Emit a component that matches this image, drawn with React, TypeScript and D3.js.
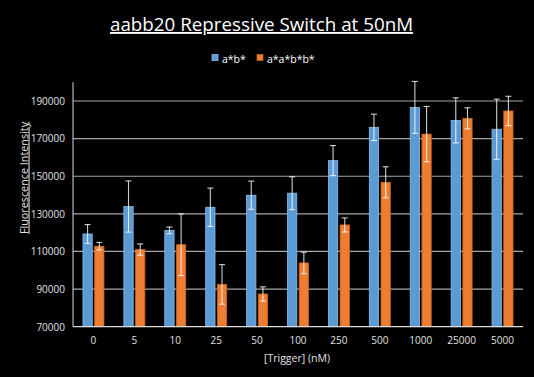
import React from "react";
import * as d3 from "d3";

const categories = ["0", "5", "10", "25", "50", "100", "250", "500", "1000", "25000", "5000"];
const seriesNames = ["a*b*", "a*a*b*b*"];
const valuesA = [119300, 133900, 121200, 133500, 139900, 141000, 158300, 176000, 186600, 179700, 175000];
const errorsA = [5000, 13600, 1800, 10200, 7500, 8700, 8000, 7000, 13800, 12000, 16000];
const valuesB = [112800, 111000, 113600, 92500, 87400, 103900, 124100, 146800, 172400, 180800, 184700];
const errorsB = [2000, 3000, 16400, 10500, 3800, 5700, 3750, 8250, 14700, 5600, 7800];
const yTicks = [70000, 90000, 110000, 130000, 150000, 170000, 190000];

const colors = ["#5B9BD5", "#ED7D31"];
const strokes = ["#8DBBE6", "#C9621F"];

export default function App() {
  const W = 534, H = 377;
  const left = 73, right = 523, top = 82.2, bottom = 326.7;
  const x = d3.scaleBand().domain(categories).range([left, right]);
  const y = d3.scaleLinear().domain([70000, 200000]).range([bottom, top]);
  const barW = 9.3, gap = 2.4;
  const series = [
    { vals: valuesA, errs: errorsA },
    { vals: valuesB, errs: errorsB },
  ];
  const font = "'Open Sans', sans-serif";
  return (
    <svg width={W} height={H} style={{ position: "absolute", left: 0, top: 0, background: "#000" }}>
      <rect x={0} y={0} width={W} height={H} fill="#000" />
      <text x={261.5} y={31} textAnchor="middle" fill="#fff" fontFamily={font} fontSize={18.8} textDecoration="underline">
        aabb20 Repressive Switch at 50nM
      </text>
      {/* legend */}
      {seriesNames.map((n, i) => {
        const lx = i === 0 ? 212 : 257;
        return (
          <g key={n}>
            <rect x={lx} y={54.5} width={6} height={6} fill={colors[i]} stroke={strokes[i]} strokeWidth={0.8} />
            <text x={lx + 10} y={63} fill="#fff" fontFamily={font} fontSize={10.5}>{n}</text>
          </g>
        );
      })}
      {/* gridlines */}
      {yTicks.slice(1).map((t) => (
        <line key={t} x1={left} x2={right} y1={y(t)} y2={y(t)} stroke="#a6a6a6" strokeWidth={1.2} />
      ))}
      {/* y tick labels */}
      {yTicks.map((t) => (
        <text key={t} x={65} y={y(t) + 3.8} textAnchor="end" fill="#e0e0e0" fontFamily={font} fontSize={10}>
          {t}
        </text>
      ))}
      {/* bars */}
      {categories.map((c, ci) => {
        const cx = (x(c) as number) + x.bandwidth() / 2;
        return (
          <g key={c}>
            {series.map((s, si) => {
              const bx = si === 0 ? cx - gap / 2 - barW : cx + gap / 2;
              const v = s.vals[ci];
              return (
                <rect key={si} x={bx} y={y(v)} width={barW} height={bottom - y(v)} fill={colors[si]} stroke={strokes[si]} strokeWidth={0.8} />
              );
            })}
          </g>
        );
      })}
      {/* error bars */}
      {categories.map((c, ci) => {
        const cx = (x(c) as number) + x.bandwidth() / 2;
        return (
          <g key={c}>
            {series.map((s, si) => {
              const ex = si === 0 ? cx - gap / 2 - barW / 2 : cx + gap / 2 + barW / 2;
              const v = s.vals[ci], e = s.errs[ci];
              const y1 = Math.max(y(v + e), 80), y2 = y(v - e);
              return (
                <g key={si} stroke="#ffffff" strokeOpacity={0.8} strokeWidth={1.1}>
                  <line x1={ex} x2={ex} y1={y1} y2={y2} />
                  {y(v + e) > 81 && <line x1={ex - 3} x2={ex + 3} y1={y1} y2={y1} />}
                  <line x1={ex - 3} x2={ex + 3} y1={y2} y2={y2} />
                </g>
              );
            })}
          </g>
        );
      })}
      {/* axes */}
      <line x1={left} x2={left} y1={top} y2={bottom} stroke="#d9d9d9" strokeWidth={1} />
      <line x1={left} x2={right} y1={bottom} y2={bottom} stroke="#d9d9d9" strokeWidth={1.2} />
      {/* x labels */}
      {categories.map((c) => (
        <text key={c} x={(x(c) as number) + x.bandwidth() / 2} y={344} textAnchor="middle" fill="#e0e0e0" fontFamily={font} fontSize={10}>
          {c}
        </text>
      ))}
      <text x={297} y={362} textAnchor="middle" fill="#e0e0e0" fontFamily={font} fontSize={10.5}>
        [Trigger] (nM)
      </text>
      <text transform="translate(27.5,178) rotate(-90)" textAnchor="middle" fill="#e0e0e0" fontFamily={font} fontSize={10.8} textDecoration="underline">
        Fluorescence Intensity
      </text>
    </svg>
  );
}
